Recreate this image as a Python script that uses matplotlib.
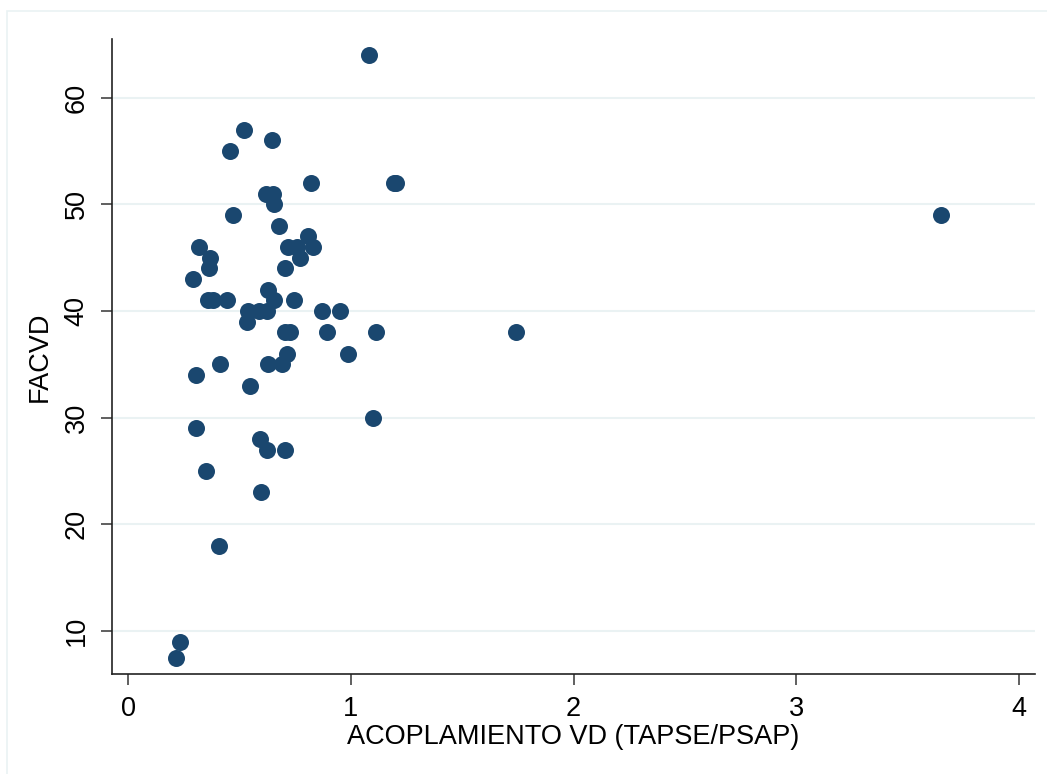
import matplotlib
matplotlib.use("Agg")
import matplotlib.pyplot as plt
from matplotlib.patches import Rectangle

# ACOPLAMIENTO VD (TAPSE/PSAP) vs FACVD
acoplamiento = [1.08, 0.52, 0.645, 0.46, 0.62, 0.65, 0.82, 1.195, 1.205, 0.655,
                0.47, 3.65, 0.68, 0.81, 0.72, 0.76, 0.83, 0.77, 0.705, 0.32,
                0.37, 0.365, 0.29, 0.36, 0.38, 0.445, 0.63, 0.655, 0.745, 0.54,
                0.59, 0.625, 0.87, 0.95, 0.535, 0.705, 0.727, 0.893, 1.113, 1.74,
                0.714, 0.988, 0.413, 0.63, 0.69, 0.305, 0.548, 1.10, 0.305, 0.593,
                0.624, 0.705, 0.35, 0.597, 0.409, 0.233, 0.215]
facvd = [64, 57, 56, 55, 51, 51, 52, 52, 52, 50,
         49, 49, 48, 47, 46, 46, 46, 45, 44, 46,
         45, 44, 43, 41, 41, 41, 42, 41, 41, 40,
         40, 40, 40, 40, 39, 38, 38, 38, 38, 38,
         36, 36, 35, 35, 35, 34, 33, 30, 29, 28,
         27, 27, 25, 23, 18, 9, 7.5]

x_ticks = [0, 1, 2, 3, 4]
y_ticks = [10, 20, 30, 40, 50, 60]

plt.rcParams['font.family'] = ['Liberation Sans', 'DejaVu Sans']

fig = plt.figure(figsize=(10.47, 7.74), dpi=100)
fig.patches.append(Rectangle((7 / 1047, -0.1), 1.2, 1 - 11 / 774 + 0.1,
                             transform=fig.transFigure, fill=False,
                             edgecolor="#eaf2f3", linewidth=1.2))
ax = fig.add_axes([112 / 1047, 1 - 674 / 774, 923 / 1047, 635 / 774])

ax.scatter(acoplamiento, facvd, s=150, color="#1a476f", linewidths=0, zorder=3)

ax.set_xlim(-0.072, 4.072)
ax.set_ylim(5.97, 65.5)
ax.set_xticks(x_ticks)
ax.set_yticks(y_ticks)
ax.grid(axis="y", color="#eaf2f3", linewidth=1.5)
ax.set_axisbelow(True)

for s in ["top", "right"]:
    ax.spines[s].set_visible(False)
for s in ["left", "bottom"]:
    ax.spines[s].set_color("#222222")
    ax.spines[s].set_linewidth(1.2)

ax.tick_params(axis="both", length=8, width=1.2, color="#444444", labelsize=19.5, pad=8)
for lab in ax.get_yticklabels():
    lab.set_rotation(90)
    lab.set_va("center")

ax.set_xlabel("ACOPLAMIENTO VD (TAPSE/PSAP)", fontsize=19.5, labelpad=1)
ax.set_ylabel("FACVD", fontsize=19.5, labelpad=8)

fig.savefig("out.png", dpi=100)
